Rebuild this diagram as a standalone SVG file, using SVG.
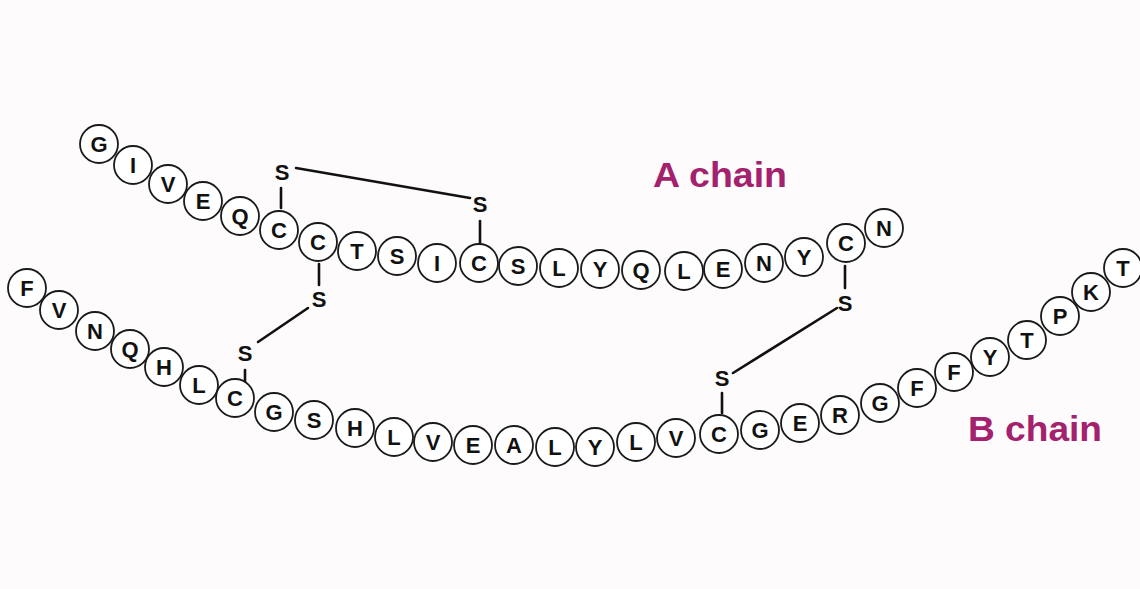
<svg xmlns="http://www.w3.org/2000/svg" width="1140" height="589" viewBox="0 0 1140 589">
  <style>
    .res circle { fill: #ffffff; stroke: #1a1a1a; stroke-width: 1.8; }
    .res text, .sx { font-family: "Liberation Sans", Arial, sans-serif; font-weight: bold; font-size: 22px; fill: #111; text-anchor: middle; }
    .bond { stroke: #111; stroke-width: 2.6; stroke-linecap: round; fill: none; }
    .label { font-family: "Liberation Sans", Arial, sans-serif; font-weight: bold; font-size: 35px; fill: #a3216d; }
  </style>
  <rect width="1140" height="589" fill="#fdfbfc"/>

  <!-- disulfide bridges -->
  <g id="connectors">
    <!-- A6 - A11 intrachain bridge -->
    <line class="bond" x1="281" y1="188" x2="281" y2="208"/>
    <line class="bond" x1="296" y1="168" x2="470" y2="198"/>
    <line class="bond" x1="480" y1="221" x2="480" y2="243"/>
    <!-- A7 - B7 -->
    <line class="bond" x1="319" y1="264" x2="319" y2="285"/>
    <line class="bond" x1="308" y1="308" x2="258" y2="342"/>
    <line class="bond" x1="245" y1="370" x2="245" y2="383"/>
    <!-- A20 - B19 -->
    <line class="bond" x1="845" y1="266" x2="845" y2="288"/>
    <line class="bond" x1="837" y1="308" x2="733" y2="373"/>
    <line class="bond" x1="722" y1="393" x2="722" y2="413"/>
  </g>

  <g id="sulfurs">
    <text class="sx" x="282" y="180">S</text>
    <text class="sx" x="480" y="212">S</text>
    <text class="sx" x="319" y="307">S</text>
    <text class="sx" x="245" y="361">S</text>
    <text class="sx" x="845" y="311">S</text>
    <text class="sx" x="722" y="386">S</text>
  </g>

  <!-- A chain residues -->
  <g id="chainA">
    <g id="A1" class="res"><circle cx="99" cy="144" r="19"/><text x="99" y="152">G</text></g>
    <g id="A2" class="res"><circle cx="133" cy="165" r="19"/><text x="133" y="173">I</text></g>
    <g id="A3" class="res"><circle cx="168" cy="184" r="19"/><text x="168" y="192">V</text></g>
    <g id="A4" class="res"><circle cx="203" cy="201" r="19"/><text x="203" y="209">E</text></g>
    <g id="A5" class="res"><circle cx="240" cy="216" r="19"/><text x="240" y="224">Q</text></g>
    <g id="A6" class="res"><circle cx="279" cy="230" r="19"/><text x="279" y="238">C</text></g>
    <g id="A7" class="res"><circle cx="318" cy="242" r="19"/><text x="318" y="250">C</text></g>
    <g id="A8" class="res"><circle cx="357" cy="251" r="19"/><text x="357" y="259">T</text></g>
    <g id="A9" class="res"><circle cx="397" cy="256" r="19"/><text x="397" y="264">S</text></g>
    <g id="A10" class="res"><circle cx="437" cy="263" r="19"/><text x="437" y="271">I</text></g>
    <g id="A11" class="res"><circle cx="479" cy="263" r="19"/><text x="479" y="271">C</text></g>
    <g id="A12" class="res"><circle cx="518" cy="266" r="19"/><text x="518" y="274">S</text></g>
    <g id="A13" class="res"><circle cx="559" cy="268" r="19"/><text x="559" y="276">L</text></g>
    <g id="A14" class="res"><circle cx="600" cy="269" r="19"/><text x="600" y="277">Y</text></g>
    <g id="A15" class="res"><circle cx="641" cy="270" r="19"/><text x="641" y="278">Q</text></g>
    <g id="A16" class="res"><circle cx="684" cy="271" r="19"/><text x="684" y="279">L</text></g>
    <g id="A17" class="res"><circle cx="723" cy="269" r="19"/><text x="723" y="277">E</text></g>
    <g id="A18" class="res"><circle cx="764" cy="263" r="19"/><text x="764" y="271">N</text></g>
    <g id="A19" class="res"><circle cx="804" cy="257" r="19"/><text x="804" y="265">Y</text></g>
    <g id="A20" class="res"><circle cx="846" cy="243" r="19"/><text x="846" y="251">C</text></g>
    <g id="A21" class="res"><circle cx="884" cy="228" r="19"/><text x="884" y="236">N</text></g>
  </g>

  <!-- B chain residues -->
  <g id="chainB">
    <g id="B1" class="res"><circle cx="27" cy="288" r="19"/><text x="27" y="296">F</text></g>
    <g id="B2" class="res"><circle cx="59" cy="310" r="19"/><text x="59" y="318">V</text></g>
    <g id="B3" class="res"><circle cx="95" cy="331" r="19"/><text x="95" y="339">N</text></g>
    <g id="B4" class="res"><circle cx="130" cy="349" r="19"/><text x="130" y="357">Q</text></g>
    <g id="B5" class="res"><circle cx="164" cy="367" r="19"/><text x="164" y="375">H</text></g>
    <g id="B6" class="res"><circle cx="199" cy="385" r="19"/><text x="199" y="393">L</text></g>
    <g id="B7" class="res"><circle cx="235" cy="398" r="19"/><text x="235" y="406">C</text></g>
    <g id="B8" class="res"><circle cx="274" cy="412" r="19"/><text x="274" y="420">G</text></g>
    <g id="B9" class="res"><circle cx="314" cy="420" r="19"/><text x="314" y="428">S</text></g>
    <g id="B10" class="res"><circle cx="355" cy="428" r="19"/><text x="355" y="436">H</text></g>
    <g id="B11" class="res"><circle cx="394" cy="437" r="19"/><text x="394" y="445">L</text></g>
    <g id="B12" class="res"><circle cx="433" cy="442" r="19"/><text x="433" y="450">V</text></g>
    <g id="B13" class="res"><circle cx="473" cy="445" r="19"/><text x="473" y="453">E</text></g>
    <g id="B14" class="res"><circle cx="514" cy="445" r="19"/><text x="514" y="453">A</text></g>
    <g id="B15" class="res"><circle cx="555" cy="447" r="19"/><text x="555" y="455">L</text></g>
    <g id="B16" class="res"><circle cx="595" cy="447" r="19"/><text x="595" y="455">Y</text></g>
    <g id="B17" class="res"><circle cx="636" cy="442" r="19"/><text x="636" y="450">L</text></g>
    <g id="B18" class="res"><circle cx="676" cy="438" r="19"/><text x="676" y="446">V</text></g>
    <g id="B19" class="res"><circle cx="719" cy="434" r="19"/><text x="719" y="442">C</text></g>
    <g id="B20" class="res"><circle cx="760" cy="430" r="19"/><text x="760" y="438">G</text></g>
    <g id="B21" class="res"><circle cx="800" cy="423" r="19"/><text x="800" y="431">E</text></g>
    <g id="B22" class="res"><circle cx="840" cy="415" r="19"/><text x="840" y="423">R</text></g>
    <g id="B23" class="res"><circle cx="880" cy="403" r="19"/><text x="880" y="411">G</text></g>
    <g id="B24" class="res"><circle cx="917" cy="388" r="19"/><text x="917" y="396">F</text></g>
    <g id="B25" class="res"><circle cx="954" cy="372" r="19"/><text x="954" y="380">F</text></g>
    <g id="B26" class="res"><circle cx="990" cy="357" r="19"/><text x="990" y="365">Y</text></g>
    <g id="B27" class="res"><circle cx="1027" cy="340" r="19"/><text x="1027" y="348">T</text></g>
    <g id="B28" class="res"><circle cx="1060" cy="316" r="19"/><text x="1060" y="324">P</text></g>
    <g id="B29" class="res"><circle cx="1091" cy="292" r="19"/><text x="1091" y="300">K</text></g>
    <g id="B30" class="res"><circle cx="1123" cy="268" r="19"/><text x="1123" y="276">T</text></g>
  </g>

  <g id="labels">
    <text class="label" x="653" y="187" textLength="134" lengthAdjust="spacingAndGlyphs">A chain</text>
    <text class="label" x="968" y="441" textLength="134" lengthAdjust="spacingAndGlyphs">B chain</text>
  </g>
</svg>
